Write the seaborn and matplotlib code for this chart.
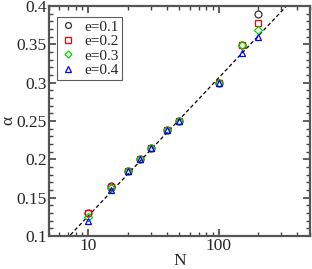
import numpy as np
import pandas as pd
import seaborn as sns
import matplotlib
matplotlib.use("Agg")
import matplotlib.pyplot as plt
from matplotlib.ticker import LogLocator, NullFormatter, FixedFormatter, FixedLocator, MultipleLocator

# data
N = [10, 15, 20, 25, 30, 40, 50, 100, 150, 200]
alpha_e01 = [0.130, 0.165, 0.185, 0.200, 0.215, 0.238, 0.250, 0.300, 0.349, 0.389]
alpha_e02 = [0.130, 0.164, 0.185, 0.200, 0.215, 0.238, 0.250, 0.300, 0.349, 0.378]
alpha_e03 = [0.125, 0.162, 0.185, 0.200, 0.215, 0.238, 0.250, 0.300, 0.349, 0.369]
alpha_e04 = [0.120, 0.160, 0.185, 0.200, 0.215, 0.238, 0.250, 0.300, 0.339, 0.359]
labels = ["e=0.1", "e=0.2", "e=0.3", "e=0.4"]
yticks = [0.1, 0.15, 0.2, 0.25, 0.3, 0.35, 0.4]
yticklabels = ["0.1", "0.15", "0.2", "0.25", "0.3", "0.35", "0.4"]

# fitted line alpha = a*log10(N) + b
fit_a = 0.1803
fit_b = -0.0542

sns.set_theme(style="ticks")
plt.rcParams["font.family"] = ["Liberation Serif", "DejaVu Serif"]

fig = plt.figure(figsize=(3.12, 2.69), dpi=100)
ax = fig.add_axes([0.157, 0.1227, 0.8366, 0.855])

xs = np.logspace(np.log10(5), np.log10(500), 200)
ax.plot(xs, fit_a * np.log10(xs) + fit_b, ls=(0, (3, 2)), color="black", lw=0.9, zorder=1)

series = [alpha_e01, alpha_e02, alpha_e03, alpha_e04]
markers = ["o", "s", "D", "^"]
colors = ["#333333", "red", "#00dd00", "blue"]
sizes = [5.0, 4.8, 4.2, 5.0]
for vals, lab, m, c, s in zip(series, labels, markers, colors, sizes):
    df = pd.DataFrame({"N": N, "alpha": vals})
    sns.lineplot(data=df, x="N", y="alpha", ax=ax, marker=m, color=c, mfc="none",
                 mec=c, mew=0.9, ms=s, linestyle="none", label=lab, zorder=3)

ax.set_xscale("log")
ax.set_xlim(5, 500)
ax.set_ylim(0.1, 0.4)
ax.xaxis.set_major_locator(FixedLocator([10, 100]))
ax.xaxis.set_major_formatter(FixedFormatter(["10", "100"]))
ax.xaxis.set_minor_locator(LogLocator(base=10, subs=np.arange(2, 10)))
ax.xaxis.set_minor_formatter(NullFormatter())
ax.yaxis.set_major_locator(FixedLocator(yticks))
ax.yaxis.set_major_formatter(FixedFormatter(yticklabels))
ax.yaxis.set_minor_locator(MultipleLocator(0.01))

ax.tick_params(which="both", direction="in", top=True, right=True, color="#444444",
               labelsize=12.5, pad=1.5)
ax.tick_params(which="major", length=5, width=1.2)
ax.tick_params(which="minor", length=3, width=1.0)
for sp in ax.spines.values():
    sp.set_linewidth(1.6)
    sp.set_color("#555555")

ax.set_xlabel("N", fontsize=12.5, labelpad=-1)
ax.set_ylabel("α", fontsize=12.5, labelpad=0)

leg = ax.legend(loc="upper left", fontsize=11, frameon=True, fancybox=False,
                edgecolor="#333333", handlelength=1.0, handletextpad=0.6,
                borderpad=0.2, labelspacing=0.05, borderaxespad=0,
                bbox_to_anchor=(0.031, 0.952), markerscale=0.85)
leg.get_frame().set_linewidth(0.8)

fig.savefig("out.png", dpi=100)
